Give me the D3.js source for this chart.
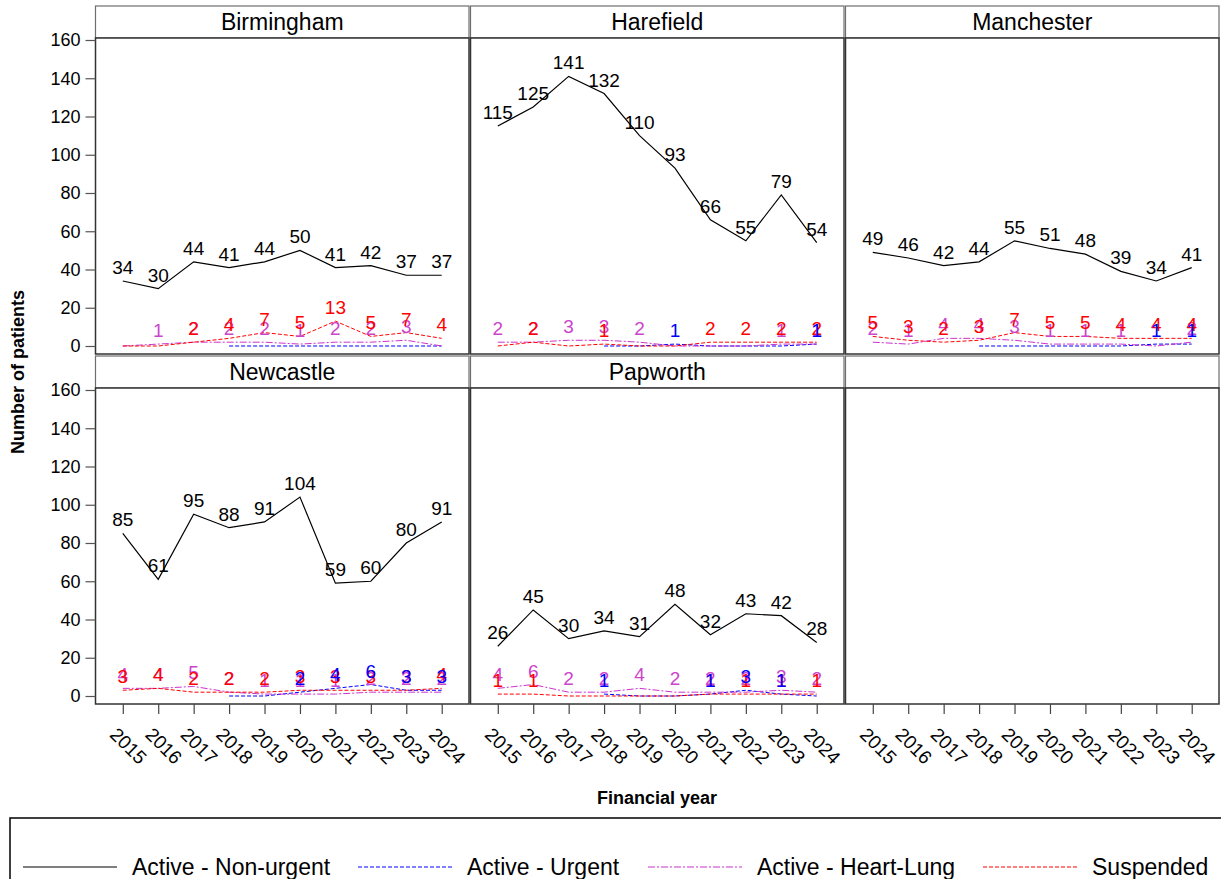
<!DOCTYPE html>
<html>
<head>
<meta charset="utf-8">
<script src="https://cdn.jsdelivr.net/npm/d3@7/dist/d3.min.js"></script>
<style>
  html, body { margin: 0; padding: 0; background: #fff; }
  svg { display: block; font-family: "Liberation Sans", Arial, sans-serif; }
</style>
</head>
<body>
<svg id="chart" width="1221" height="879"></svg>
<script>
// Financial years on the x axis
const years = ["2015", "2016", "2017", "2018", "2019", "2020", "2021", "2022", "2023", "2024"];
// Transplant centres, one panel each (row-major)
const centres = ["Birmingham", "Harefield", "Manchester", "Newcastle", "Papworth"];
const yTicks = [0, 20, 40, 60, 80, 100, 120, 140, 160];

// Patients on the list at year end, per centre (same order as centres)
const nonUrgent = [
  [34, 30, 44, 41, 44, 50, 41, 42, 37, 37],
  [115, 125, 141, 132, 110, 93, 66, 55, 79, 54],
  [49, 46, 42, 44, 55, 51, 48, 39, 34, 41],
  [85, 61, 95, 88, 91, 104, 59, 60, 80, 91],
  [26, 45, 30, 34, 31, 48, 32, 43, 42, 28]
];
// Urgent category only recorded from 2018
const urgent = [
  [null, null, null, 0, 0, 0, 0, 0, 0, 0],
  [null, null, null, 0, 0, 1, 0, 0, 0, 1],
  [null, null, null, 0, 0, 0, 0, 0, 1, 1],
  [null, null, null, 0, 0, 2, 4, 6, 3, 3],
  [null, null, null, 1, 0, 0, 1, 3, 1, 0]
];
const heartLung = [
  [0, 1, 2, 2, 2, 1, 2, 2, 3, 0],
  [2, 2, 3, 3, 2, 0, 0, 0, 1, 1],
  [2, 1, 4, 4, 3, 1, 1, 1, 0, 2],
  [4, 4, 5, 2, 1, 1, 1, 2, 2, 2],
  [4, 6, 2, 2, 4, 2, 2, 2, 3, 2]
];
const suspended = [
  [0, 0, 2, 4, 7, 5, 13, 5, 7, 4],
  [0, 2, 0, 1, 0, 0, 2, 2, 2, 2],
  [5, 3, 2, 3, 7, 5, 5, 4, 4, 4],
  [3, 4, 2, 2, 2, 3, 3, 3, 3, 4],
  [1, 1, 0, 0, 0, 0, 1, 1, 1, 1]
];

const seriesNames = ["Active - Non-urgent", "Active - Urgent", "Active - Heart-Lung", "Suspended"];
const seriesData = [nonUrgent, urgent, heartLung, suspended];
const seriesColor = ["#000000", "#0000ff", "#cc33cc", "#ff0000"];
const seriesDash = [null, "4,2", "7,2,2,2", "4,2"];
const labelColor = ["#000000", "#0000ff", "#cc44cc", "#ff0000"];
// label draw order: heart-lung, suspended, urgent on top
const labelOrder = [0, 2, 3, 1];

const svg = d3.select("#chart");

// facet grid geometry
const colX = [95.5, 470.5, 845.5];
const panelW = 373.5;
const rowY = [6, 356];
const stripH = 32;
const plotH = 316;

const x = d3.scalePoint().domain(years).range([0, panelW]).padding(0.77);
const y = d3.scaleLinear().domain([0, 160]).range([plotH - 8, 2]);

const line = d3.line()
  .defined(d => d != null)
  .x((d, i) => x(years[i]))
  .y(d => y(d));

for (let p = 0; p < 6; p++) {
  const r = Math.floor(p / 3), c = p % 3;
  const g = svg.append("g").attr("transform", `translate(${colX[c]},${rowY[r]})`);

  // strip header
  g.append("rect")
    .attr("x", 0).attr("y", 0).attr("width", panelW).attr("height", stripH)
    .attr("fill", "#fff").attr("stroke", "#6e6e6e").attr("stroke-width", 1.2);
  if (p < centres.length) {
    g.append("text")
      .attr("x", panelW / 2).attr("y", stripH / 2 + 8)
      .attr("text-anchor", "middle")
      .attr("font-size", 23).attr("fill", "#000")
      .text(centres[p]);
  }

  const plot = g.append("g").attr("transform", `translate(0,${stripH})`);
  plot.append("rect")
    .attr("x", 0).attr("y", 0).attr("width", panelW).attr("height", plotH)
    .attr("fill", "#fff").attr("stroke", "#333").attr("stroke-width", 1.5);

  // y axis on left column
  if (c === 0) {
    const ya = plot.append("g").call(d3.axisLeft(y).tickValues(yTicks).tickSize(10).tickPadding(5));
    ya.select(".domain").remove();
    ya.selectAll(".tick line").attr("stroke", "#555").attr("stroke-width", 1.2);
    ya.selectAll(".tick text").attr("font-size", 18).attr("fill", "#000")
      .attr("font-family", "Liberation Sans, Arial, sans-serif");
  }

  // x axis along the bottom row
  if (r === 1) {
    const xa = plot.append("g").attr("transform", `translate(0,${plotH})`)
      .call(d3.axisBottom(x).tickSize(10).tickFormat(""));
    xa.select(".domain").remove();
    xa.selectAll(".tick line").attr("stroke", "#444").attr("stroke-width", 1.2);
    xa.selectAll(".tick").append("text")
      .attr("transform", "translate(5,42) rotate(45)")
      .attr("text-anchor", "middle")
      .attr("dominant-baseline", "central")
      .attr("font-size", 19).attr("fill", "#000")
      .attr("font-family", "Liberation Sans, Arial, sans-serif")
      .text(d => d);
  }

  if (p >= centres.length) continue;

  // series lines
  seriesData.forEach((s, k) => {
    plot.append("path")
      .datum(s[p])
      .attr("d", line)
      .attr("fill", "none")
      .attr("stroke", seriesColor[k])
      .attr("stroke-width", k === 0 ? 1.2 : 1)
      .attr("stroke-dasharray", seriesDash[k]);
  });

  // value labels above points (zeros left unlabelled)
  labelOrder.forEach(k => {
    const vals = seriesData[k][p];
    plot.append("g").selectAll("text")
      .data(vals.map((v, i) => ({ v, i })).filter(d => d.v != null && d.v > 0))
      .join("text")
      .attr("x", d => x(years[d.i]))
      .attr("y", d => y(d.v) - 7)
      .attr("text-anchor", "middle")
      .attr("font-size", 19)
      .attr("fill", labelColor[k])
      .text(d => d.v);
  });
}

// axis titles
svg.append("text")
  .attr("transform", "translate(24,372) rotate(-90)")
  .attr("text-anchor", "middle")
  .attr("font-size", 18).attr("font-weight", "bold")
  .text("Number of patients");
svg.append("text")
  .attr("x", 657).attr("y", 804)
  .attr("text-anchor", "middle")
  .attr("font-size", 18).attr("font-weight", "bold")
  .text("Financial year");

// legend
const legend = svg.append("g");
legend.append("rect")
  .attr("x", 10).attr("y", 818).attr("width", 1230).attr("height", 80)
  .attr("fill", "#fff").attr("stroke", "#000").attr("stroke-width", 1.5);
const legendX = [23, 358, 648, 983];
seriesNames.forEach((name, k) => {
  const lg = legend.append("g").attr("transform", `translate(${legendX[k]},867)`);
  lg.append("line")
    .attr("x1", 0).attr("x2", 94).attr("y1", 0).attr("y2", 0)
    .attr("stroke", seriesColor[k]).attr("stroke-width", 1.2)
    .attr("stroke-dasharray", seriesDash[k]);
  lg.append("text")
    .attr("x", 109).attr("y", 8)
    .attr("font-size", 23).attr("fill", "#000")
    .text(name);
});
</script>
</body>
</html>
